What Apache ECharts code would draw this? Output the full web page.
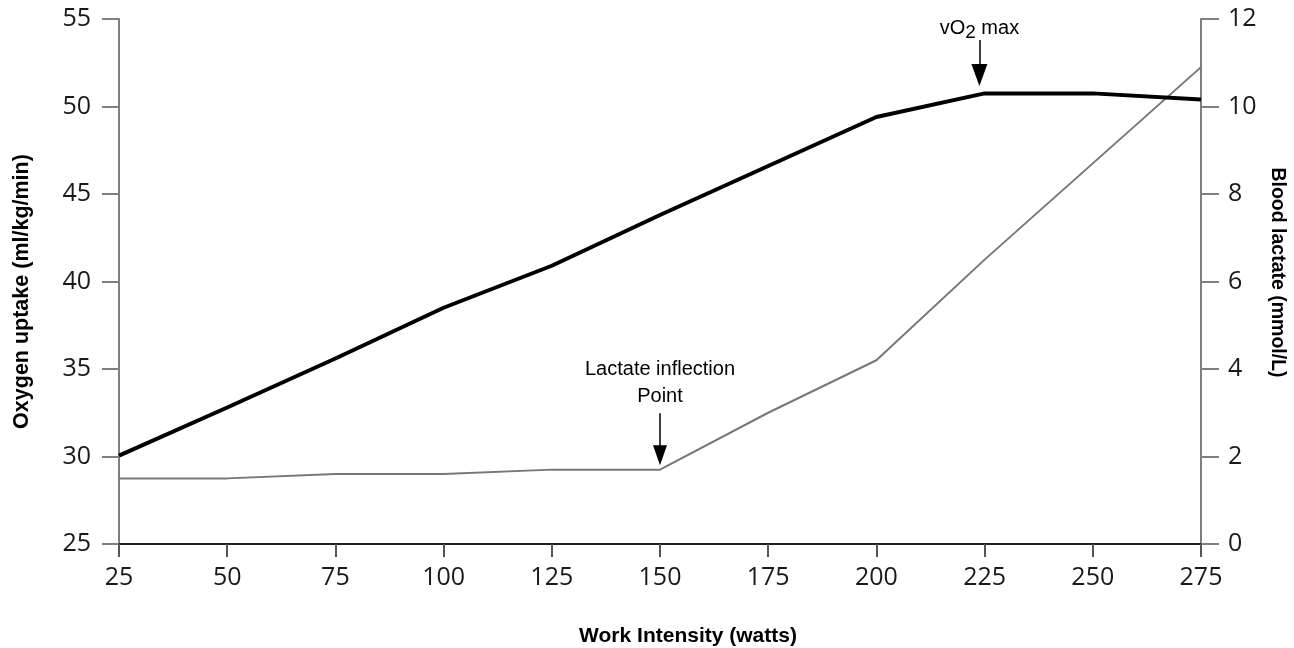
<!DOCTYPE html>
<html>
<head>
<meta charset="utf-8">
<script src="https://cdn.jsdelivr.net/npm/echarts@6/dist/echarts.min.js"></script>
<style>
html,body{margin:0;padding:0;background:#fff;}
#chart{width:1294px;height:648px;}
</style>
</head>
<body>
<div id="chart"></div>
<script>
// Data
const workIntensity = [25, 50, 75, 100, 125, 150, 175, 200, 225, 250, 275];
const oxygenUptake = [30.05, 32.8, 35.6, 38.5, 40.9, 43.8, 46.6, 49.4, 50.75, 50.75, 50.4];
const bloodLactate = [1.5, 1.5, 1.6, 1.6, 1.7, 1.7, 3.0, 4.2, 6.5, 8.7, 10.9];
const vo2MaxAnnotation = { x: 223.8, from: 53.8, to: 51.8 };
const lactateAnnotation = { x: 150, from: 2.99, to: 2.03 };

const tickFont = '"Open Sans", sans-serif';
const titleFont = '"Liberation Sans", Arial, sans-serif';

const chart = echarts.init(document.getElementById('chart'), null, { renderer: 'canvas' });

const pairs = (xs, ys) => xs.map((x, i) => [x, ys[i]]);

chart.setOption({
  animation: false,
  backgroundColor: '#ffffff',
  grid: { left: 119, right: 93, top: 19, bottom: 104, containLabel: false, outerBoundsMode: 'none' },
  xAxis: {
    type: 'value', min: 25, max: 275, interval: 25,
    name: 'Work Intensity (watts)', nameLocation: 'middle', nameGap: 82,
    nameTextStyle: { fontFamily: titleFont, fontWeight: 'bold', fontSize: 21, color: '#000', padding: [0, 0, 0, 56] },
    axisLine: { show: true, lineStyle: { color: '#222', width: 2 } },
    axisTick: { show: true, inside: false, length: 13, lineStyle: { color: '#555', width: 2 } },
    axisLabel: { margin: 21, fontFamily: tickFont, fontSize: 25, color: '#1a1a1a' },
    splitLine: { show: false }
  },
  yAxis: [
    {
      type: 'value', min: 25, max: 55, interval: 5, position: 'left',
      name: 'Oxygen uptake (ml/kg/min)', nameLocation: 'middle', nameGap: 86, nameRotate: 90,
      nameTextStyle: { fontFamily: titleFont, fontWeight: 'bold', fontSize: 21.5, color: '#000', padding: [0, 20, 0, 0] },
      axisLine: { show: true, lineStyle: { color: '#7f7f7f', width: 2 } },
      axisTick: { show: true, inside: false, length: 17, lineStyle: { color: '#7f7f7f', width: 2 } },
      axisLabel: { margin: 28, fontFamily: tickFont, fontSize: 25, color: '#1a1a1a' },
      splitLine: { show: false }
    },
    {
      type: 'value', min: 0, max: 12, interval: 2, position: 'right',
      name: 'Blood lactate (mmol/L)', nameLocation: 'middle', nameGap: 58, nameRotate: -90,
      nameTextStyle: { fontFamily: titleFont, fontWeight: 'bold', fontSize: 19.5, color: '#000', padding: [0, 18, 0, 0] },
      axisLine: { show: true, lineStyle: { color: '#7f7f7f', width: 2 } },
      axisTick: { show: true, inside: false, length: 18, lineStyle: { color: '#7f7f7f', width: 2 } },
      axisLabel: { margin: 27, fontFamily: tickFont, fontSize: 25, color: '#1a1a1a' },
      splitLine: { show: false }
    }
  ],
  series: [
    {
      name: 'Blood lactate', type: 'line', yAxisIndex: 1,
      data: pairs(workIntensity, bloodLactate),
      symbol: 'none', lineStyle: { color: '#777', width: 2 }, z: 2,
      markLine: {
        silent: true, animation: false,
        symbol: ['none', 'triangle'], symbolSize: [14, 20],
        lineStyle: { color: '#000', width: 1.5, type: 'solid' },
        label: {
          show: true, position: 'start', distance: 3,
          formatter: 'Lactate inflection\nPoint',
          fontFamily: titleFont, fontSize: 20, lineHeight: 27, color: '#000', align: 'center'
        },
        data: [[
          { coord: [lactateAnnotation.x, lactateAnnotation.from] },
          { coord: [lactateAnnotation.x, lactateAnnotation.to] }
        ]]
      }
    },
    {
      name: 'Oxygen uptake', type: 'line', yAxisIndex: 0,
      data: pairs(workIntensity, oxygenUptake),
      symbol: 'none', lineStyle: { color: '#000', width: 4 }, z: 3,
      markLine: {
        silent: true, animation: false,
        symbol: ['none', 'triangle'], symbolSize: [16, 22],
        lineStyle: { color: '#000', width: 1.5, type: 'solid' },
        label: {
          show: true, position: 'start', distance: -2,
          formatter: '{a|vO}{s|2}{a| max}',
          rich: {
            a: { fontFamily: titleFont, fontSize: 20, color: '#000', verticalAlign: 'top', lineHeight: 24 },
            s: { fontFamily: titleFont, fontSize: 19, color: '#000', verticalAlign: 'top', lineHeight: 24, padding: [5, 0, 0, 0] }
          }
        },
        data: [[
          { coord: [vo2MaxAnnotation.x, vo2MaxAnnotation.from] },
          { coord: [vo2MaxAnnotation.x, vo2MaxAnnotation.to] }
        ]]
      }
    }
  ]
});
</script>
</body>
</html>
